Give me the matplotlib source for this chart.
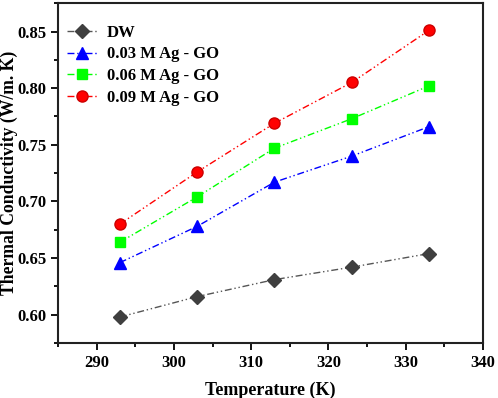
import matplotlib
matplotlib.use("Agg")
import matplotlib.pyplot as plt
from matplotlib.ticker import MultipleLocator

temps = [293, 303, 313, 323, 333]
dw = [0.598, 0.616, 0.631, 0.642, 0.654]
ag003 = [0.646, 0.678, 0.717, 0.740, 0.766]
ag006 = [0.664, 0.704, 0.747, 0.773, 0.802]
ag009 = [0.680, 0.726, 0.769, 0.805, 0.851]
labels = ["DW", "0.03 M Ag - GO", "0.06 M Ag - GO", "0.09 M Ag - GO"]

plt.rcParams['font.family'] = ['Liberation Serif', 'DejaVu Serif']
plt.rcParams['font.weight'] = 'bold'

fig = plt.figure(figsize=(4.98, 3.98), dpi=100)
ax = fig.add_axes([0.1165, 0.138, 0.8535, 0.854])

dash = (5, 2, 1, 2, 1, 2)
ax.plot(temps, dw, linestyle=(0, dash), color='#555555', marker='D', ms=7,
        mfc='#3f3f3f', mec='#3f3f3f', lw=1, label=labels[0])
ax.plot(temps, ag003, linestyle=(0, dash), color='#0000ff', marker='^', ms=8,
        mfc='#0000ff', mec='#0000ff', lw=1, label=labels[1])
ax.plot(temps, ag006, linestyle=(0, dash), color='#00ff00', marker='s', ms=7,
        mfc='#00ff00', mec='#00ff00', lw=1, label=labels[2])
ax.plot(temps, ag009, linestyle=(0, dash), color='#ff0000', marker='o', ms=8,
        mfc='#ff0000', mec='#cc0000', lw=1, label=labels[3])

ax.set_xlim(285, 340)
ax.set_ylim(0.575, 0.875)
ax.xaxis.set_major_locator(MultipleLocator(10))
ax.xaxis.set_minor_locator(MultipleLocator(5))
ax.yaxis.set_major_locator(MultipleLocator(0.05))
ax.yaxis.set_minor_locator(MultipleLocator(0.025))
ax.tick_params(axis='both', which='major', direction='out', length=5, width=1.3,
               labelsize=12)
ax.tick_params(axis='both', which='minor', direction='out', length=3, width=1.3)
for lab in ax.get_xticklabels() + ax.get_yticklabels():
    lab.set_fontweight('bold')
for s in ax.spines.values():
    s.set_linewidth(1.5)
    s.set_color('#222222')

ax.set_xlabel("Temperature (K)", fontsize=13, fontweight='bold', labelpad=8)
ax.set_ylabel("Thermal Conductivity (W/m. K)", fontsize=12.7, fontweight='bold')
ax.yaxis.set_label_coords(-0.094, 0.5)

leg = ax.legend(loc='upper left', frameon=False, fontsize=12, handlelength=1.9,
                handletextpad=0.5, borderaxespad=0, borderpad=0,
                labelspacing=0.35, bbox_to_anchor=(0.02, 0.937))
for t in leg.get_texts():
    t.set_fontweight('bold')

fig.savefig("out.png", dpi=100)
